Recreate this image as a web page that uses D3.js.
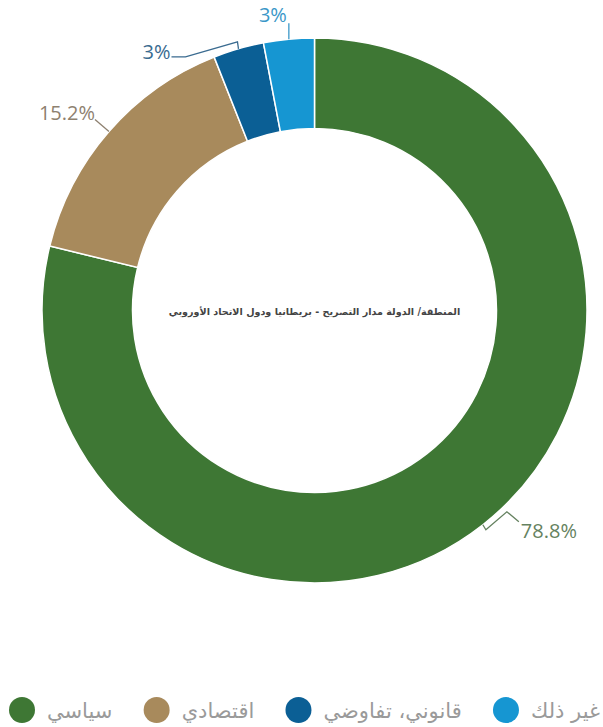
<!DOCTYPE html>
<html lang="ar">
<head>
<meta charset="utf-8">
<script src="https://cdn.jsdelivr.net/npm/d3@7/dist/d3.min.js"></script>
<style>
  html, body { margin: 0; padding: 0; background: #ffffff; }
  svg { display: block; }
</style>
</head>
<body>
<svg id="chart" width="603" height="727"></svg>
<script>
// Statement topics - UK and EU countries
const categories = ["سياسي", "اقتصادي", "قانوني، تفاوضي", "غير ذلك"];
const values = [78.8, 15.2, 3, 3];
const valueLabels = ["78.8%", "15.2%", "3%", "3%"];
const sliceColors = ["#3e7734", "#a88a5c", "#0b5f95", "#1696d2"];
const labelColors = ["#658260", "#8e8170", "#3a6b90", "#3a97c8"];
const centerTitle = "المنطقة/ الدولة مدار التصريح - بريطانيا ودول الاتحاد الأوروبي";

const svg = d3.select("#chart");
const cx = 314.5, cy = 310.5;
const outerR = 272.5, innerR = 182;

const pie = d3.pie().sort(null).value(d => d)(values);
const arc = d3.arc().innerRadius(innerR).outerRadius(outerR);

const g = svg.append("g").attr("transform", `translate(${cx},${cy})`);

g.selectAll("path.slice")
  .data(pie)
  .join("path")
  .attr("class", "slice")
  .attr("d", arc)
  .attr("fill", (d, i) => sliceColors[i])
  .attr("stroke", "#ffffff")
  .attr("stroke-width", 1.5);

// centre caption
g.append("text")
  .attr("x", 0)
  .attr("y", 4)
  .attr("text-anchor", "middle")
  .attr("direction", "rtl")
  .attr("font-family", "'DejaVu Sans', sans-serif")
  .attr("font-size", 9.6)
  .attr("font-weight", "bold")
  .attr("fill", "#444444")
  .text(centerTitle);

// value labels with bent leader lines, anchored at each slice's outer mid-point
function outerMid(d) {
  const a = (d.startAngle + d.endAngle) / 2;
  return [outerR * Math.sin(a), -outerR * Math.cos(a)];
}
const leaderShapes = [
  { pts: [[0, 0], [3, 5], [24, -13], [36, -3]], tx: 38, ty: 13, anchor: "start" },
  { pts: [[0, 0], [-14, -12]], tx: -14, ty: -12, anchor: "end" },
  { pts: [[0, 0], [-1, -7], [-53, 8], [-67, 8]], tx: -68, ty: 10, anchor: "end" },
  { pts: [[0, 0], [0, -16]], tx: -2, ty: -17, anchor: "end" }
];

pie.forEach((d, i) => {
  const [mx, my] = outerMid(d);
  const shape = leaderShapes[i];
  const line = d3.line()(shape.pts.map(p => [mx + p[0], my + p[1]]));
  g.append("path")
    .attr("d", line)
    .attr("fill", "none")
    .attr("stroke", labelColors[i])
    .attr("stroke-width", 1.3);
  g.append("text")
    .attr("x", mx + shape.tx)
    .attr("y", my + shape.ty)
    .attr("text-anchor", shape.anchor)
    .attr("font-family", "'Open Sans', sans-serif")
    .attr("font-size", 20)
    .attr("fill", labelColors[i])
    .text(valueLabels[i]);
});

// legend: marker then label, spread across the bottom
const legY = 710, markR = 13, textGap = 12;
const leg = svg.append("g");
const items = leg.selectAll("g.item")
  .data(categories)
  .join("g")
  .attr("class", "item");
items.append("circle")
  .attr("r", markR)
  .attr("cy", legY)
  .attr("fill", (d, i) => sliceColors[i]);
items.append("text")
  .attr("y", legY + 8)
  .attr("font-family", "'DejaVu Sans', sans-serif")
  .attr("font-size", 21)
  .attr("fill", "#9a9a9a")
  .attr("text-anchor", "start")
  .attr("direction", "ltr")
  .text(d => d);

const widths = [];
items.select("text").each(function () { widths.push(this.getComputedTextLength()); });
const legLeft = 9, legRight = 600;
const itemW = widths.map(w => markR * 2 + textGap + w);
const spacing = (legRight - legLeft - d3.sum(itemW)) / (categories.length - 1);
let xPos = legLeft;
items.each(function (d, i) {
  const sel = d3.select(this);
  sel.select("circle").attr("cx", xPos + markR);
  sel.select("text").attr("x", xPos + markR * 2 + textGap);
  xPos += itemW[i] + spacing;
});
</script>
</body>
</html>
